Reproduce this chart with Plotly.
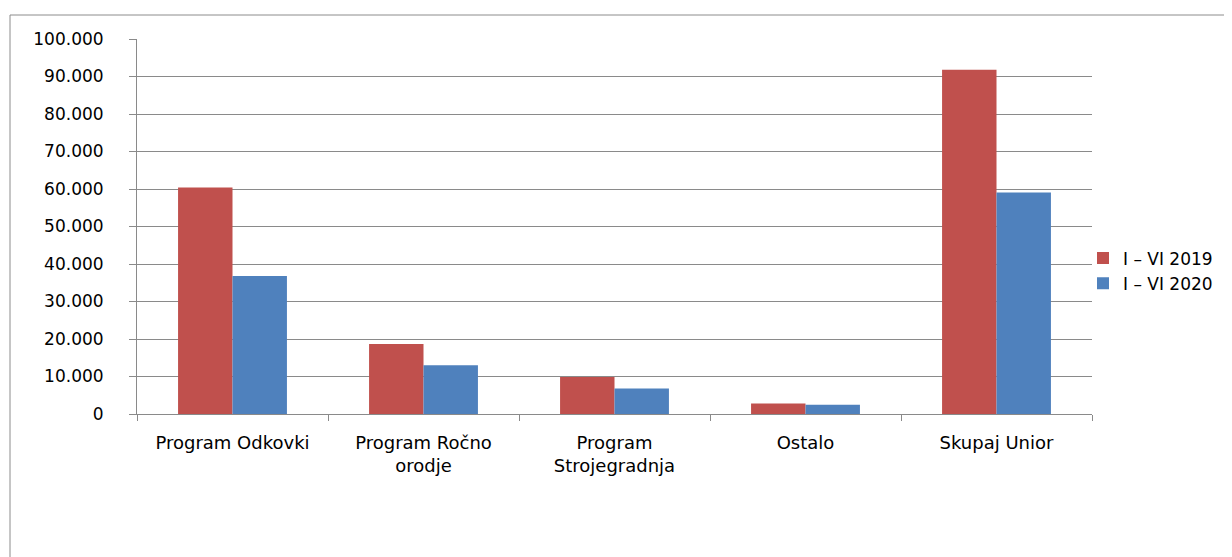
import plotly.graph_objects as go

categories = ["Program Odkovki", "Program Ročno<br>orodje", "Program<br>Strojegradnja", "Ostalo", "Skupaj Unior"]
series_names = ["I – VI 2019", "I – VI 2020"]
values_2019 = [60400, 18700, 9900, 2800, 91800]
values_2020 = [36800, 13000, 6800, 2500, 59100]
y_tickvals = [0, 10000, 20000, 30000, 40000, 50000, 60000, 70000, 80000, 90000, 100000]
y_ticktext = ["0", "10.000", "20.000", "30.000", "40.000", "50.000", "60.000", "70.000", "80.000", "90.000", "100.000"]

OFF = 8  # page body margin
W, H = 1232 - OFF, 557 - OFF
L, R, T, B = 137 - OFF, 1092 - OFF, 39 - OFF, 414 - OFF
FONT = "DejaVu Sans"

fig = go.Figure()
fig.add_trace(go.Bar(x=categories, y=values_2019, name=series_names[0],
                     marker=dict(color="#C0504D", line=dict(width=0))))
fig.add_trace(go.Bar(x=categories, y=values_2020, name=series_names[1],
                     marker=dict(color="#4F81BD", line=dict(width=0))))

def px(x):
    return (x - OFF - L) / (R - L)

def py(y):
    return (B - (y - OFF)) / (B - T)

grid = "#8a8a8a"
fig.update_layout(
    width=W, height=H,
    margin=dict(l=L, r=W - R, t=T, b=H - B, pad=0),
    paper_bgcolor="white", plot_bgcolor="white",
    barmode="group", bargap=0.43, bargroupgap=0,
    font=dict(family=FONT, size=17, color="#000000"),
    showlegend=True,
    legend=dict(x=px(1083), y=py(271), xanchor="left", yanchor="middle",
                font=dict(family=FONT, size=17, color="#000000"),
                bgcolor="rgba(0,0,0,0)", itemwidth=30, tracegroupgap=0),
    xaxis=dict(type="category", showgrid=False, showline=True, linecolor=grid, linewidth=1,
               ticks="outside", ticklen=6, tickcolor=grid, tickson="boundaries",
               ticklabelstandoff=12,
               tickfont=dict(family=FONT, size=18, color="#000000"), automargin=False),
    yaxis=dict(range=[0, 100000], tickvals=y_tickvals, ticktext=y_ticktext,
               showgrid=True, gridcolor=grid, gridwidth=1, zeroline=False,
               showline=True, linecolor=grid, linewidth=1,
               ticks="outside", ticklen=7, tickcolor=grid, ticklabelstandoff=22,
               tickfont=dict(family=FONT, size=17, color="#000000"), automargin=False),
    shapes=[
        dict(type="line", xref="paper", yref="paper", x0=px(10), x1=px(1240), y0=py(15), y1=py(15),
             line=dict(color="#8c8c8c", width=1)),
        dict(type="line", xref="paper", yref="paper", x0=px(10), x1=px(10), y0=py(15), y1=py(570),
             line=dict(color="#8c8c8c", width=1)),
    ],
)

fig.write_html("out.html")
